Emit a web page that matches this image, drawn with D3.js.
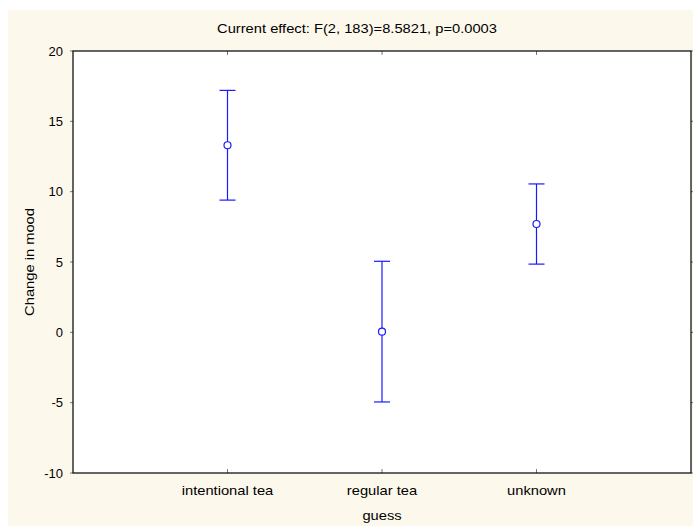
<!DOCTYPE html>
<html>
<head>
<meta charset="utf-8">
<script src="https://cdn.jsdelivr.net/npm/d3@7"></script>
<style>
  body { margin: 0; background: #fff; overflow: hidden; }
  text { font-family: "Liberation Sans", Arial, sans-serif; fill: #000; }
</style>
</head>
<body>
<div id="chart"></div>
<script>
// data
var categories = ["intentional tea", "regular tea", "unknown"];
var means = [13.3, 0.05, 7.7];
var upper = [17.2, 5.05, 10.55];
var lower = [9.4, -4.95, 4.85];
var yTicks = [-10, -5, 0, 5, 10, 15, 20];

var W = 693, H = 527;
var margin = {top: 51, right: 2, bottom: 54, left: 73};
var width = W - margin.left - margin.right,
    height = H - margin.top - margin.bottom;

var svg = d3.select("#chart").append("svg")
    .attr("width", W)
    .attr("height", H);

// cream panel
svg.append("rect")
    .attr("x", 8).attr("y", 10)
    .attr("width", W - 8).attr("height", 516)
    .attr("fill", "#fdf8ec");

var g = svg.append("g")
    .attr("transform", "translate(" + margin.left + "," + margin.top + ")");

var x = d3.scaleLinear().domain([0, categories.length + 1]).range([0, width]);
var y = d3.scaleLinear().domain([-10, 20]).range([height, 0]);

g.append("rect")
    .attr("width", width).attr("height", height)
    .attr("fill", "#fff");

// ticks
var catIdx = d3.range(1, categories.length + 1);
g.selectAll(".ttop").data(catIdx).enter().append("line")
    .attr("x1", d => x(d)).attr("x2", d => x(d))
    .attr("y1", 0).attr("y2", 4)
    .attr("stroke", "#777");
g.selectAll(".tbot").data(catIdx).enter().append("line")
    .attr("x1", d => x(d)).attr("x2", d => x(d))
    .attr("y1", height).attr("y2", height - 4)
    .attr("stroke", "#777");
g.selectAll(".tl").data(yTicks).enter().append("line")
    .attr("x1", -3).attr("x2", 0)
    .attr("y1", d => y(d)).attr("y2", d => y(d))
    .attr("stroke", "#777");
g.selectAll(".tr").data(yTicks).enter().append("line")
    .attr("x1", width).attr("x2", width + 2)
    .attr("y1", d => y(d)).attr("y2", d => y(d))
    .attr("stroke", "#777");

g.append("rect")
    .attr("width", width).attr("height", height)
    .attr("fill", "none")
    .attr("stroke", "#000")
    .attr("stroke-width", 1.2);

// y tick labels
g.selectAll(".yl").data(yTicks).enter().append("text")
    .attr("x", -10).attr("y", d => y(d))
    .attr("dy", "0.35em")
    .attr("text-anchor", "end")
    .style("font-size", "13px")
    .text(d => d);

// x tick labels
g.selectAll(".xl").data(categories).enter().append("text")
    .attr("class", "wide")
    .attr("x", (d, i) => x(i + 1)).attr("y", height + 22)
    .attr("text-anchor", "middle")
    .style("font-size", "13px")
    .text(d => d);

// error bars
var pts = categories.map((c, i) => ({i: i + 1, m: means[i], hi: upper[i], lo: lower[i]}));
var eb = g.selectAll(".eb").data(pts).enter().append("g")
    .attr("stroke", "#1a1aff").attr("stroke-width", 1.2);
eb.append("line")
    .attr("x1", d => x(d.i)).attr("x2", d => x(d.i))
    .attr("y1", d => y(d.hi)).attr("y2", d => y(d.lo));
eb.append("line")
    .attr("x1", d => x(d.i) - 8).attr("x2", d => x(d.i) + 8)
    .attr("y1", d => y(d.hi)).attr("y2", d => y(d.hi));
eb.append("line")
    .attr("x1", d => x(d.i) - 8).attr("x2", d => x(d.i) + 8)
    .attr("y1", d => y(d.lo)).attr("y2", d => y(d.lo));
eb.append("circle")
    .attr("cx", d => x(d.i)).attr("cy", d => y(d.m))
    .attr("r", 3.5)
    .attr("fill", "#fff");

// title and axis titles
svg.append("text")
    .attr("class", "wide")
    .attr("x", 357).attr("y", 33)
    .attr("text-anchor", "middle")
    .style("font-size", "13px")
    .text("Current effect: F(2, 183)=8.5821, p=0.0003");

svg.append("text")
    .attr("class", "wide")
    .attr("x", 382).attr("y", 520)
    .attr("text-anchor", "middle")
    .style("font-size", "13px")
    .text("guess");

svg.append("text")
    .attr("class", "wide")
    .attr("transform", "translate(34," + (margin.top + y(5)) + ")rotate(-90)")
    .attr("text-anchor", "middle")
    .style("font-size", "13px")
    .text("Change in mood");

// the original labels are a bit wider than Liberation Sans
svg.selectAll("text.wide").each(function() {
  var len = this.getComputedTextLength();
  d3.select(this)
    .attr("textLength", len * 1.13)
    .attr("lengthAdjust", "spacingAndGlyphs");
});
</script>
</body>
</html>
